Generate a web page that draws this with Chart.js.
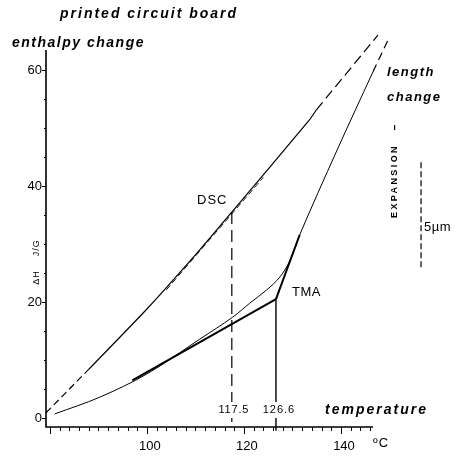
<!DOCTYPE html>
<html>
<head>
<meta charset="utf-8">
<script src="https://cdn.jsdelivr.net/npm/chart.js@4"></script>
<style>
  html, body { margin: 0; padding: 0; background: #fff; }
</style>
</head>
<body>
<canvas id="chart" width="459" height="456"></canvas>
<script>
// Valores: temperatura (ºC) y ΔH / dilatación
const dscLowDashT = [79.2, 87.9];
const dscLowDashV = [0.9, 8.3];
const dscT = [87.9, 100, 110.9, 117.5, 133.5, 134.9];
const dscV = [8.3, 18.8, 29.0, 35.5, 51.4, 53.1];
const dscHighDashT = [134.9, 147.6];
const dscHighDashV = [53.1, 66.0];
const dscTangentT = [104, 124];
const dscTangentV = [22.1, 41.5];

const tmaT = [81.0, 90.3, 100, 110.9, 117.7, 121.2, 124.7, 127.4, 129.5, 131.5, 139.2, 146.6];
const tmaV = [0.7, 3.6, 7.6, 13.6, 17.4, 19.8, 22.1, 24.3, 27.2, 31.6, 46.2, 59.7];
const tmaLowTangentT = [97, 126.6];
const tmaLowTangentV = [6.5, 20.5];
const tmaHighTangentT = [126.6, 131.5];
const tmaHighTangentV = [20.5, 31.6];
const tmaDashT = [146.6, 149.6];
const tmaDashV = [59.7, 65.0];

const dscOnset = 117.5;
const dscOnsetV = 35.5;
const tmaOnset = 126.6;
const tmaOnsetV = 20.5;

// barra de escala 5 µm
const scaleBarT = 156.5;
const scaleBarV = [26.0, 44.1];

const xTickLabels = [100, 120, 140];
const yTickLabels = [0, 20, 40, 60];

function pts(xs, ys) {
    return xs.map((x, i) => ({ x: x, y: ys[i] }));
}

function serie(data, width, dash, tension) {
    return {
        data: data,
        showLine: true,
        borderColor: '#000',
        borderWidth: width,
        borderDash: dash || [],
        pointRadius: 0,
        tension: tension || 0,
        clip: false
    };
}

const FONT = '"Liberation Sans", Arial, sans-serif';

function texto(ctx, str, x, y, font, align, spacing) {
    ctx.font = font;
    ctx.textAlign = align || 'left';
    ctx.textBaseline = 'middle';
    ctx.letterSpacing = (spacing || 0) + 'px';
    ctx.fillText(str, x, y);
}

// texto con fondo blanco (corta las líneas verticales)
function etiqueta(ctx, str, x, y, font, spacing) {
    ctx.font = font;
    ctx.letterSpacing = spacing + 'px';
    const w = ctx.measureText(str).width;
    ctx.fillStyle = '#fff';
    ctx.fillRect(x - w / 2 - 1, y - 8, w + 2, 16);
    ctx.fillStyle = '#000';
    texto(ctx, str, x, y, font, 'center', spacing);
}

// Ejes, marcas y textos dibujados a mano
const decoracion = {
    id: 'decoracion',
    afterDatasetsDraw(chart) {
        const ctx = chart.ctx;
        const a = chart.chartArea;
        const x = chart.scales.x;
        const y = chart.scales.y;
        ctx.save();
        ctx.strokeStyle = '#000';
        ctx.fillStyle = '#000';
        ctx.setLineDash([]);

        ctx.lineWidth = 1.6;
        ctx.beginPath();
        ctx.moveTo(a.left, a.top);
        ctx.lineTo(a.left, a.bottom);
        ctx.lineTo(a.right, a.bottom);
        ctx.stroke();

        ctx.lineWidth = 1;
        ctx.beginPath();
        for (let v = 0; v <= 60; v += 5) {
            const py = Math.round(y.getPixelForValue(v)) + 0.5;
            const len = v % 20 === 0 ? 4 : 2;
            ctx.moveTo(a.left - len, py);
            ctx.lineTo(a.left, py);
        }
        for (let t = 80; t <= 146; t += 2) {
            const px = Math.round(x.getPixelForValue(t)) + 0.5;
            const len = t % 20 === 0 ? 7 : 4;
            ctx.moveTo(px, a.bottom);
            ctx.lineTo(px, a.bottom + len);
        }
        ctx.stroke();

        yTickLabels.forEach(v => {
            texto(ctx, String(v), a.left - 4, y.getPixelForValue(v), '13px ' + FONT, 'right');
        });
        xTickLabels.forEach(t => {
            texto(ctx, String(t), x.getPixelForValue(t) + 3, a.bottom + 19, '13px ' + FONT, 'center');
        });
        texto(ctx, 'ºC', 373, 443, '13px ' + FONT, 'left', 1);

        etiqueta(ctx, '117.5', x.getPixelForValue(dscOnset) + 2, 410, '11px ' + FONT, 0.8);
        etiqueta(ctx, '126.6', x.getPixelForValue(tmaOnset) + 3, 410, '11px ' + FONT, 1);
        texto(ctx, 'DSC', 197, 200, '13px ' + FONT, 'left', 1);
        texto(ctx, 'TMA', 292, 292, '13px ' + FONT, 'left', 0.5);

        texto(ctx, 'printed circuit board', 60, 14, 'italic bold 14px ' + FONT, 'left', 2);
        texto(ctx, 'enthalpy change', 12, 43, 'italic bold 14px ' + FONT, 'left', 1.5);
        texto(ctx, 'temperature', 325, 410, 'italic bold 14px ' + FONT, 'left', 2);
        texto(ctx, 'length', 387, 72, 'italic bold 13px ' + FONT, 'left', 1.5);
        texto(ctx, 'change', 387, 97, 'italic bold 13px ' + FONT, 'left', 1.5);
        texto(ctx, '5µm', 424, 227, '13px ' + FONT, 'left', 0.5);

        // textos verticales
        ctx.save();
        ctx.translate(395, 181);
        ctx.rotate(-Math.PI / 2);
        texto(ctx, 'EXPANSION', 0, 0, 'bold 9px ' + FONT, 'center', 2.4);
        ctx.restore();
        ctx.fillRect(394, 125, 1.2, 5);

        ctx.save();
        ctx.translate(37, 262);
        ctx.rotate(-Math.PI / 2);
        texto(ctx, 'ΔH    J/G', 0, 0, '9px ' + FONT, 'center', 1);
        ctx.restore();

        ctx.restore();
    }
};

new Chart(document.getElementById('chart'), {
    type: 'scatter',
    data: {
        datasets: [
            serie(pts(dscLowDashT, dscLowDashV), 1.2, [7, 4]),
            serie(pts(dscT, dscV), 1.2, [], 0.2),
            serie(pts(dscHighDashT, dscHighDashV), 1.2, [10, 5]),
            serie(pts(dscTangentT, dscTangentV), 0.9, [6, 3]),
            serie(pts(tmaT, tmaV), 1, [], 0.35),
            serie(pts(tmaLowTangentT, tmaLowTangentV), 2),
            serie(pts(tmaHighTangentT, tmaHighTangentV), 2),
            serie(pts(tmaDashT, tmaDashV), 1.2, [8, 5]),
            serie(pts([dscOnset, dscOnset], [dscOnsetV, -1.55]), 1.2, [12, 6]),
            serie(pts([tmaOnset, tmaOnset], [tmaOnsetV, -2.2]), 1.4),
            serie(pts([scaleBarT, scaleBarT], scaleBarV), 1.2, [6, 3])
        ]
    },
    options: {
        responsive: false,
        animation: false,
        devicePixelRatio: 1,
        layout: { padding: { left: 46, right: 86, top: 50, bottom: 29 } },
        scales: {
            x: { type: 'linear', min: 79.2, max: 146.6, display: false },
            y: { type: 'linear', min: -1.55, max: 63.45, display: false }
        },
        plugins: {
            legend: { display: false },
            tooltip: { enabled: false }
        }
    },
    plugins: [decoracion]
});
</script>
</body>
</html>
